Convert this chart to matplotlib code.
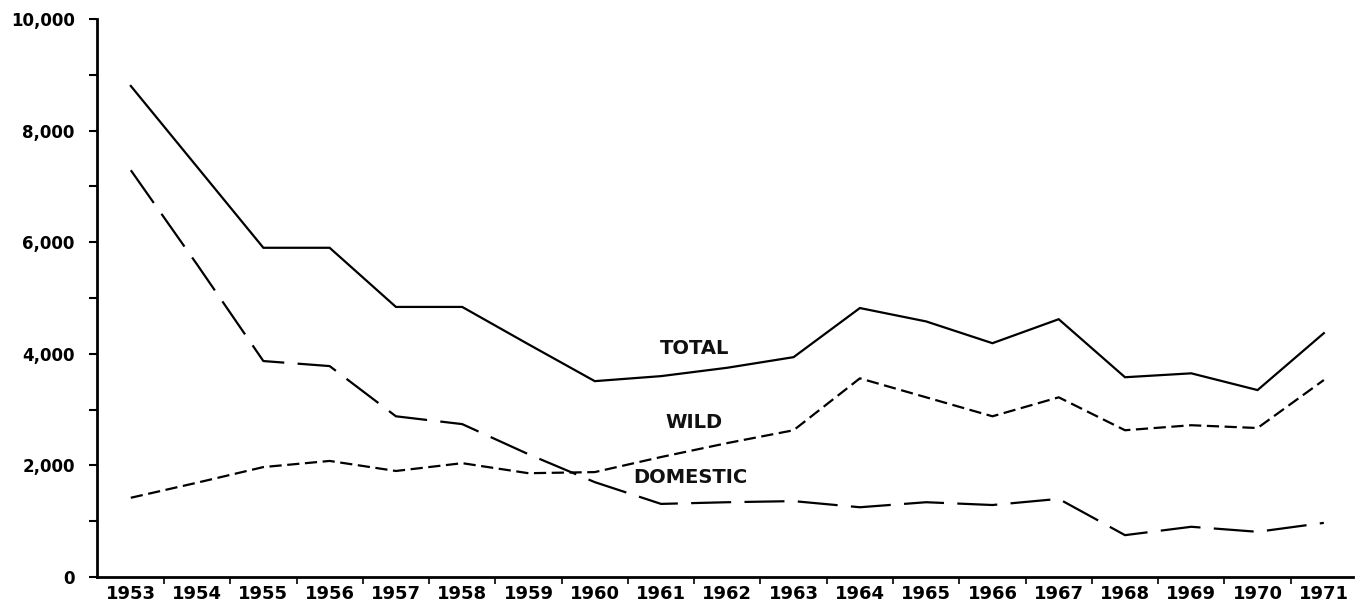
import numpy as np
import matplotlib
matplotlib.use("Agg")
import matplotlib.pyplot as plt
from matplotlib.ticker import FixedLocator, FuncFormatter

years = list(range(1953, 1972))

total = [8800, 7350, 5900, 5900, 4840, 4840, 4170, 3510, 3600, 3750,
         3940, 4820, 4580, 4190, 4620, 3580, 3650, 3350, 4370]
wild = [1420, 1690, 1970, 2080, 1900, 2040, 1860, 1880, 2150, 2400,
        2630, 3560, 3220, 2880, 3220, 2630, 2720, 2670, 3530]
domestic = [7290, 5600, 3870, 3780, 2880, 2740, 2200, 1700, 1310, 1340,
            1360, 1250, 1340, 1290, 1400, 750, 900, 810, 970]

label_text = ["TOTAL", "WILD", "DOMESTIC"]
label_pos = [(1961.5, 4100), (1961.5, 2760), (1961.45, 1790)]

plt.rcParams['font.family'] = ['DejaVu Sans']

fig = plt.figure(figsize=(13.6, 6.06), dpi=100)
ax = fig.add_axes([97/1360, 1 - 577/606, (1353 - 97)/1360, (577 - 19)/606])

ax.plot(years, total, color='black', lw=1.6, solid_joinstyle='miter')
ax.plot(years, wild, color='black', lw=1.6, dashes=(5.5, 2.5))
ax.plot(years, domestic, color='black', lw=1.6, dashes=(18, 6))

for t, (x, y) in zip(label_text, label_pos):
    ax.text(x, y, t, ha='center', va='center', fontsize=14,
            fontweight='bold', color='#111111')

ax.set_xlim(1952.49, 1971.44)
ax.set_ylim(0, 10000)

ax.spines['top'].set_visible(False)
ax.spines['right'].set_visible(False)
ax.spines['left'].set_linewidth(2)
ax.spines['bottom'].set_linewidth(2)

ax.set_yticks(range(0, 10001, 2000))
ax.yaxis.set_minor_locator(FixedLocator(range(1000, 10000, 2000)))
ax.yaxis.set_major_formatter(FuncFormatter(lambda v, p: "{:,}".format(int(v))))
ax.tick_params(axis='y', which='both', length=6, width=1.5, pad=10, labelsize=12)
for lab in ax.get_yticklabels():
    lab.set_fontweight('bold')

ax.set_xticks(years)
ax.set_xticklabels([str(y) for y in years], fontweight='bold')
ax.xaxis.set_minor_locator(FixedLocator([y + 0.5 for y in years[:-1]]))
ax.tick_params(axis='x', which='major', length=0, pad=6, labelsize=13)
ax.tick_params(axis='x', which='minor', length=5, width=1.2)

fig.savefig("out.png", dpi=100)
